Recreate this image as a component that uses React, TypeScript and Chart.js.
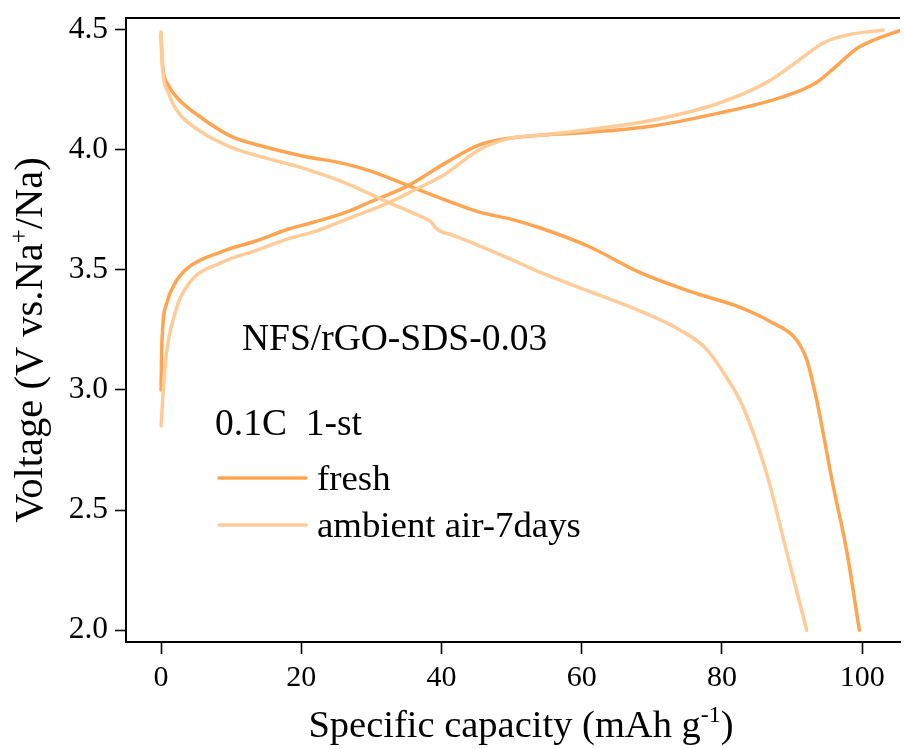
import React, { useEffect, useRef } from "react";
import { Chart, registerables } from "chart.js";

Chart.register(...registerables);

// ---- Data ----
const freshDischargeX = [0, 0.1, 0.3, 1, 2.5, 5.4, 10, 15, 20, 26.4, 30, 34.9, 40.6, 45.4, 50, 54, 61.1, 68.2, 75.4, 82.5, 87.2, 90.6, 92.1, 93.5, 95.8, 97.8, 99.6];
const freshDischargeY = [4.48, 4.40, 4.33, 4.27, 4.21, 4.14, 4.055, 4.01, 3.975, 3.94, 3.91, 3.855, 3.79, 3.74, 3.71, 3.675, 3.596, 3.49, 3.41, 3.345, 3.28, 3.21, 3.125, 2.96, 2.61, 2.33, 2.0];

const airDischargeX = [0, 0.1, 0.3, 1, 2.1, 5.4, 10, 15, 20, 26.4, 32.5, 37.2, 38.5, 39.3, 41.5, 45.4, 50.2, 54, 61.1, 68.2, 74, 77.8, 80.6, 83, 86.4, 89.2, 92.1];
const airDischargeY = [4.49, 4.40, 4.31, 4.24, 4.17, 4.08, 4.01, 3.965, 3.925, 3.86, 3.78, 3.72, 3.70, 3.67, 3.645, 3.60, 3.54, 3.49, 3.41, 3.33, 3.25, 3.17, 3.055, 2.93, 2.65, 2.33, 2.0];

const freshChargeX = [0, 0.1, 0.8, 2.0, 3.9, 8.6, 13.5, 18.2, 22, 26.4, 30, 34.9, 40.6, 45.4, 50.2, 54, 60, 69.6, 79.2, 88.7, 93.5, 96.4, 99.2, 102, 105.3];
const freshChargeY = [3.0, 3.18, 3.36, 3.445, 3.51, 3.575, 3.62, 3.67, 3.70, 3.74, 3.785, 3.845, 3.945, 4.02, 4.05, 4.06, 4.07, 4.096, 4.15, 4.22, 4.28, 4.35, 4.42, 4.46, 4.495];

const airChargeX = [0, 0.6, 2.0, 3.9, 8.6, 13.5, 18.2, 22, 26.4, 32.5, 36, 40.6, 45.4, 50.2, 54, 60, 69.6, 79.2, 86.4, 91.1, 94.5, 98.3, 103];
const airChargeY = [2.85, 3.11, 3.32, 3.44, 3.53, 3.58, 3.63, 3.66, 3.71, 3.78, 3.83, 3.90, 4.0, 4.05, 4.06, 4.08, 4.12, 4.19, 4.28, 4.375, 4.445, 4.48, 4.497];

const xTickValues = [0, 20, 40, 60, 80, 100];
const yTickValues = [2.0, 2.5, 3.0, 3.5, 4.0, 4.5];

const seriesLabels = ["fresh", "ambient air-7days"];
const freshColor = "#FFA552";
const airColor = "#FFCC99";

const toPoints = (xs: number[], ys: number[]) => xs.map((x, i) => ({ x, y: ys[i] }));

const FONT = "'Liberation Serif', 'Times New Roman', serif";

const overlayPlugin = {
  id: "overlay",
  afterDraw(chart: any) {
    const ctx = chart.ctx as CanvasRenderingContext2D;
    const area = chart.chartArea;
    ctx.save();
    // top frame line
    ctx.strokeStyle = "#000";
    ctx.lineWidth = 2;
    ctx.beginPath();
    ctx.moveTo(area.left - 1, area.top);
    ctx.lineTo(area.right, area.top);
    ctx.stroke();

    ctx.fillStyle = "#000";
    ctx.textBaseline = "alphabetic";

    const measure = (parts: { t: string; sup?: boolean }[], size: number) =>
      parts.map((p) => {
        ctx.font = `${p.sup ? Math.round(size * 0.62) : size}px ${FONT}`;
        return ctx.measureText(p.t).width;
      });

    // X title with superscript
    const xParts = [{ t: "Specific capacity (mAh g" }, { t: "-1", sup: true }, { t: ")" }];
    const xSize = 38.5;
    const xw = measure(xParts, xSize);
    const xTotal = xw.reduce((a, b) => a + b, 0);
    let cx = 521 - xTotal / 2;
    const xBase = 737;
    xParts.forEach((p, i) => {
      ctx.font = `${p.sup ? Math.round(xSize * 0.62) : xSize}px ${FONT}`;
      ctx.textAlign = "left";
      ctx.fillText(p.t, cx, p.sup ? xBase - xSize * 0.38 : xBase);
      cx += xw[i];
    });

    // Y title rotated
    const yParts = [{ t: "Voltage (V vs.Na" }, { t: "+", sup: true }, { t: "/Na)" }];
    const ySize = 40.5;
    const yw = measure(yParts, ySize);
    const yTotal = yw.reduce((a, b) => a + b, 0);
    ctx.save();
    ctx.translate(42, 340);
    ctx.rotate(-Math.PI / 2);
    let cy = -yTotal / 2;
    yParts.forEach((p, i) => {
      ctx.font = `${p.sup ? Math.round(ySize * 0.62) : ySize}px ${FONT}`;
      ctx.textAlign = "left";
      ctx.fillText(p.t, cy, p.sup ? -ySize * 0.38 : 0);
      cy += yw[i];
    });
    ctx.restore();

    // annotations
    ctx.font = `37.5px ${FONT}`;
    ctx.textAlign = "left";
    ctx.fillText("NFS/rGO-SDS-0.03", 242, 350);
    ctx.fillText("0.1C  1-st", 215, 435);

    // legend
    const legend = [
      { label: seriesLabels[0], color: freshColor, y: 478 },
      { label: seriesLabels[1], color: airColor, y: 525 },
    ];
    legend.forEach((l) => {
      ctx.strokeStyle = l.color;
      ctx.lineWidth = 3.5;
      ctx.lineCap = "round";
      ctx.beginPath();
      ctx.moveTo(219, l.y);
      ctx.lineTo(306, l.y);
      ctx.stroke();
      ctx.fillStyle = "#000";
      ctx.font = `36.8px ${FONT}`;
      ctx.fillText(l.label, 317, l.y + 12);
    });
    ctx.restore();
  },
};

export default function App() {
  const canvasRef = useRef<HTMLCanvasElement | null>(null);

  useEffect(() => {
    document.body.style.margin = "0";
    if (!canvasRef.current) return;
    const lineDs = (data: { x: number; y: number }[], color: string) => ({
      data,
      borderColor: color,
      backgroundColor: color,
      borderWidth: 3.5,
      pointRadius: 0,
      showLine: true,
      fill: false,
      cubicInterpolationMode: "monotone" as const,
      borderCapStyle: "round" as const,
      borderJoinStyle: "round" as const,
    });
    const chart = new Chart(canvasRef.current, {
      type: "scatter",
      data: {
        datasets: [
          { ...lineDs(toPoints(airDischargeX, airDischargeY), airColor), label: seriesLabels[1] },
          { ...lineDs(toPoints(airChargeX, airChargeY), airColor), label: seriesLabels[1] },
          { ...lineDs(toPoints(freshDischargeX, freshDischargeY), freshColor), label: seriesLabels[0] },
          { ...lineDs(toPoints(freshChargeX, freshChargeY), freshColor), label: seriesLabels[0] },
        ],
      },
      options: {
        animation: false,
        responsive: false,
        maintainAspectRatio: false,
        layout: { padding: { top: 18, right: 4, left: 0, bottom: 0 } },
        plugins: { legend: { display: false }, tooltip: { enabled: false } },
        scales: {
          x: {
            type: "linear",
            min: -5,
            max: 105.4,
            border: { display: true, color: "#000", width: 2 },
            grid: { drawOnChartArea: false, drawTicks: true, tickLength: 12, tickWidth: 1.6, tickColor: "#000" },
            ticks: { color: "#000", font: { family: FONT, size: 30 }, padding: 6, maxRotation: 0 },
            afterBuildTicks: (scale: any) => {
              scale.ticks = xTickValues.map((v) => ({ value: v }));
            },
            afterFit: (scale: any) => {
              scale.height = 107;
              scale.paddingLeft = 0;
              scale.paddingRight = 0;
            },
          },
          y: {
            type: "linear",
            min: 1.951,
            max: 4.548,
            border: { display: true, color: "#000", width: 2 },
            grid: { drawOnChartArea: false, drawTicks: true, tickLength: 11, tickWidth: 1.6, tickColor: "#000" },
            ticks: {
              color: "#000",
              font: { family: FONT, size: 31.5 },
              padding: 7,
              callback: (v: any) => Number(v).toFixed(1),
            },
            afterBuildTicks: (scale: any) => {
              scale.ticks = yTickValues.map((v) => ({ value: v }));
            },
            afterFit: (scale: any) => {
              scale.width = 126;
              scale.paddingTop = 0;
              scale.paddingBottom = 0;
            },
          },
        },
      },
      plugins: [overlayPlugin],
    });
    return () => chart.destroy();
  }, []);

  return (
    <div style={{ width: 904, height: 749, background: "#fff" }}>
      <canvas ref={canvasRef} width={904} height={749} style={{ display: "block" }} />
    </div>
  );
}
